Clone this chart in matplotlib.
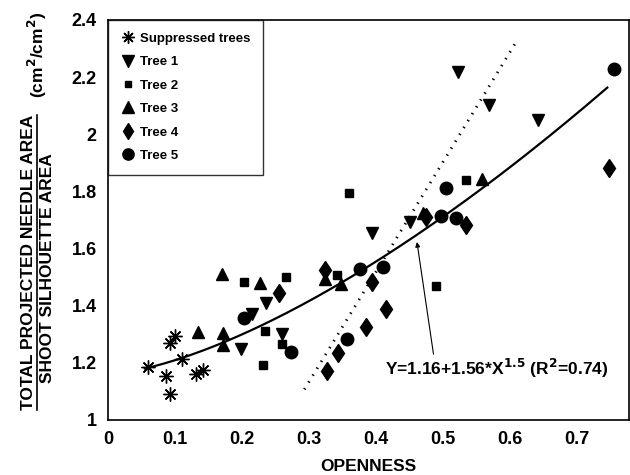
import numpy as np
import matplotlib.pyplot as plt

plt.rcParams['font.family'] = ['Liberation Sans', 'DejaVu Sans']
plt.rcParams['font.weight'] = 'bold'

# openness (x) and needle area ratio (y) per group
supp_x = [0.059, 0.092, 0.100, 0.111, 0.086, 0.092, 0.131, 0.142]
supp_y = [1.184, 1.270, 1.295, 1.215, 1.154, 1.090, 1.161, 1.175]

tree1_x = [0.236, 0.199, 0.260, 0.215, 0.394, 0.450, 0.522, 0.569, 0.641]
tree1_y = [1.410, 1.250, 1.300, 1.370, 1.653, 1.692, 2.219, 2.103, 2.050]

tree2_x = [0.203, 0.265, 0.234, 0.260, 0.231, 0.342, 0.359, 0.490, 0.534]
tree2_y = [1.482, 1.500, 1.313, 1.265, 1.193, 1.506, 1.796, 1.469, 1.840]

tree3_x = [0.170, 0.227, 0.135, 0.172, 0.171, 0.324, 0.348, 0.558, 0.470]
tree3_y = [1.510, 1.478, 1.308, 1.306, 1.262, 1.494, 1.477, 1.845, 1.725]

tree4_x = [0.255, 0.394, 0.474, 0.534, 0.415, 0.385, 0.343, 0.327, 0.747, 0.324]
tree4_y = [1.443, 1.482, 1.710, 1.683, 1.387, 1.324, 1.233, 1.171, 1.883, 1.525]

tree5_x = [0.203, 0.273, 0.376, 0.411, 0.497, 0.520, 0.505, 0.356, 0.755]
tree5_y = [1.358, 1.239, 1.527, 1.534, 1.715, 1.706, 1.811, 1.283, 2.229]

# fitted model Y = 1.16 + 1.56 * X^1.5
fit_a, fit_b, fit_p = 1.16, 1.56, 1.5
fit_range = (0.055, 0.745)

# dotted reference line endpoints
dot_x = [0.293, 0.609]
dot_y = [1.107, 2.323]

fig = plt.figure(figsize=(6.3, 4.75), dpi=100)
ax = fig.add_axes([0.1714, 0.1158, 0.8266, 0.8422])

asterisk = (8, 2, 0)
ax.plot(supp_x, supp_y, ls='none', marker=asterisk, ms=10, mew=1.0,
        color='black', label='Suppressed trees')
ax.plot(tree1_x, tree1_y, ls='none', marker='v', ms=9, color='black', label='Tree 1')
ax.plot(tree2_x, tree2_y, ls='none', marker='s', ms=5.5, color='black', label='Tree 2')
ax.plot(tree3_x, tree3_y, ls='none', marker='^', ms=9, color='black', label='Tree 3')
ax.plot(tree4_x, tree4_y, ls='none', marker='d', ms=9.5, color='black', label='Tree 4')
ax.plot(tree5_x, tree5_y, ls='none', marker='o', ms=9, color='black', label='Tree 5')

xs = np.linspace(fit_range[0], fit_range[1], 200)
ax.plot(xs, fit_a + fit_b * xs ** fit_p, color='black', lw=1.6)
ax.plot(dot_x, dot_y, color='black', lw=2.0, ls=(0, (0.5, 2.4)))

ax.annotate(r'Y=1.16+1.56*X$^{\mathbf{1.5}}$ (R$^{\mathbf{2}}$=0.74)',
            xy=(0.461, 1.623), xytext=(0.413, 1.18),
            fontsize=12.5, fontweight='bold', va='center', ha='left',
            arrowprops=dict(arrowstyle='-|>', color='black', lw=0.8,
                            mutation_scale=7, shrinkA=0, shrinkB=0,
                            relpos=(0.22, 1.0)))

ax.set_xlim(0, 0.777)
ax.set_ylim(1, 2.4)
ax.set_xticks([0, 0.1, 0.2, 0.3, 0.4, 0.5, 0.6, 0.7])
ax.set_xticklabels(['0', '0.1', '0.2', '0.3', '0.4', '0.5', '0.6', '0.7'])
ax.set_yticks([1, 1.2, 1.4, 1.6, 1.8, 2, 2.2, 2.4])
ax.set_yticklabels(['1', '1.2', '1.4', '1.6', '1.8', '2', '2.2', '2.4'])
ax.tick_params(length=0, labelsize=13, pad=8)
for lab in ax.get_xticklabels() + ax.get_yticklabels():
    lab.set_fontweight('bold')
for s in ax.spines.values():
    s.set_linewidth(1.2)

ax.set_xlabel('OPENNESS', fontsize=12.5, fontweight='bold', labelpad=8)

leg = ax.legend(loc='upper left', frameon=True, fancybox=False, fontsize=9.5,
                borderaxespad=0, handletextpad=0.3, labelspacing=0.85,
                borderpad=0.95, handlelength=1.2, markerscale=0.9)
leg.get_frame().set_edgecolor('black')
leg.get_frame().set_linewidth(1.0)
for t in leg.get_texts():
    t.set_fontweight('bold')

t1 = fig.text(0.045, 0.448, 'TOTAL PROJECTED NEEDLE AREA', rotation=90,
              ha='center', va='center', fontsize=12.5, fontweight='bold')
fig.text(0.075, 0.436, 'SHOOT SILHOUETTE AREA', rotation=90,
         ha='center', va='center', fontsize=12.5, fontweight='bold')
fig.text(0.059, 0.884, r'(cm$^{\mathbf{2}}$/cm$^{\mathbf{2}}$)', rotation=90,
         ha='center', va='center', fontsize=12.5, fontweight='bold')

# underline below the numerator (right side when rotated)
fig.canvas.draw()
bb = t1.get_window_extent().transformed(fig.transFigure.inverted())
fig.add_artist(plt.Line2D([bb.x1 + 0.002, bb.x1 + 0.002], [bb.y0, bb.y1],
                          transform=fig.transFigure, color='black', lw=1.2))

fig.savefig('out.png', dpi=100)
